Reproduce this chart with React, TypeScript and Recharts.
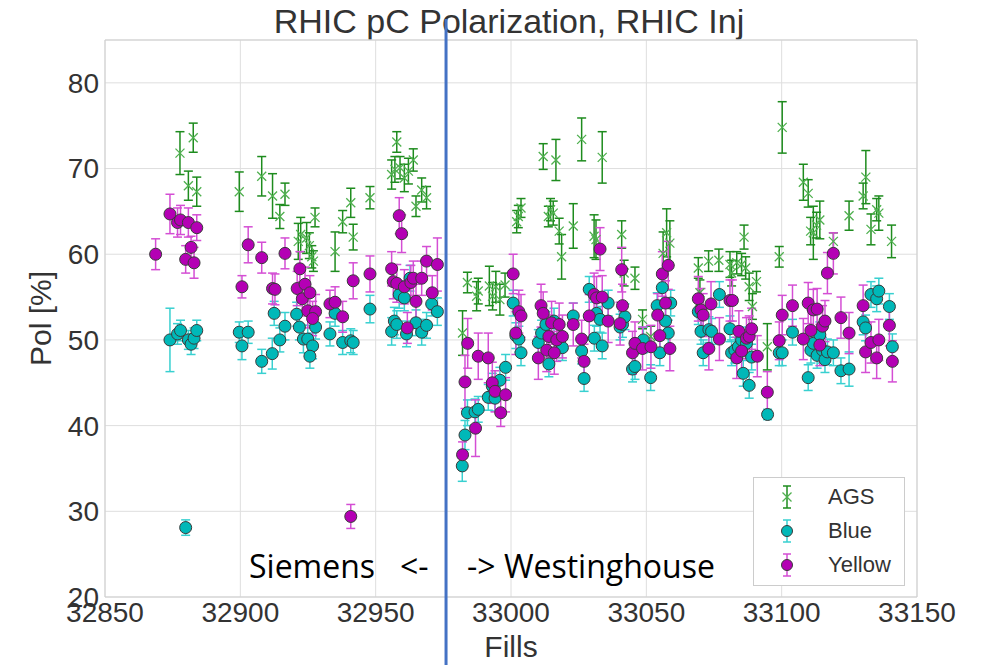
import React from 'react';
import {
  ScatterChart,
  Scatter,
  XAxis,
  YAxis,
  CartesianGrid,
  ErrorBar,
  ReferenceLine,
  ReferenceArea,
  Legend,
} from 'recharts';

type Pt = [number, number, number];

// [fill, polarization %, error]
const agsPoints: Pt[] = [
  [32877.7, 71.8, 2.5], [32882.6, 73.6, 1.7], [32880.8, 68.0, 1.7], [32883.9, 67.3, 1.7],
  [32899.6, 67.3, 2.3], [32907.9, 69.1, 2.3], [32911.9, 66.8, 2.6], [32916.5, 67.0, 1.3],
  [32914.6, 64.4, 1.4], [32921.4, 61.5, 2.1], [32922.3, 62.3, 2.0], [32924.5, 61.9, 1.8],
  [32925.5, 61.0, 1.5], [32926.4, 59.7, 1.3], [32927.0, 59.2, 1.2], [32927.6, 64.3, 1.1],
  [32935.0, 60.3, 2.3], [32937.8, 63.8, 1.3], [32940.8, 66.0, 1.7], [32941.7, 62.0, 1.5],
  [32947.9, 66.6, 1.3], [32957.8, 73.1, 1.2], [32955.9, 69.3, 1.7], [32957.1, 69.9, 1.5],
  [32959.0, 70.1, 1.3], [32960.6, 68.9, 1.6], [32962.1, 69.7, 1.5], [32963.9, 71.0, 1.3],
  [32964.9, 65.6, 1.2], [32967.0, 67.5, 1.4], [32968.8, 66.6, 1.3],
  [32982.1, 50.8, 2.6], [32983.9, 56.7, 1.2], [32987.3, 55.1, 1.7], [32987.9, 55.7, 1.5],
  [32992.0, 56.3, 2.3], [32993.2, 55.1, 1.6], [32994.4, 56.2, 1.8], [32995.9, 54.7, 1.8],
  [32997.8, 56.4, 1.4], [33002.1, 63.8, 1.3], [33002.7, 64.4, 1.3], [33003.7, 65.4, 1.1],
  [33011.9, 71.4, 1.5], [33016.6, 71.0, 2.4], [33013.8, 64.4, 1.2], [33014.6, 65.2, 1.3],
  [33015.6, 64.8, 1.4], [33017.8, 62.7, 1.5], [33018.7, 59.7, 2.6], [33023.0, 63.3, 2.6],
  [33026.1, 73.4, 2.5], [33033.7, 71.3, 3.0], [33030.7, 62.1, 2.5], [33031.4, 61.7, 2.3],
  [33040.9, 62.3, 1.6], [33041.8, 57.8, 1.5], [33045.8, 57.2, 1.3], [33048.6, 52.4, 1.1],
  [33051.6, 50.4, 1.2], [33056.2, 60.1, 2.5], [33057.5, 62.5, 2.8], [33058.7, 61.3, 2.6],
  [33069.2, 58.4, 1.2], [33069.8, 55.5, 1.5], [33073.0, 59.2, 1.2], [33076.8, 59.3, 1.3],
  [33080.9, 58.8, 1.5], [33081.5, 57.8, 1.5], [33083.4, 59.0, 1.3], [33085.2, 58.8, 1.3],
  [33086.7, 58.4, 1.3], [33086.1, 62.0, 1.4], [33088.0, 56.2, 1.6], [33090.7, 56.8, 1.2],
  [33089.2, 53.9, 1.5], [33094.7, 49.2, 2.7], [33099.1, 59.7, 1.2], [33100.2, 74.8, 3.0],
  [33108.0, 68.4, 2.1], [33109.8, 67.1, 1.6], [33110.7, 62.7, 1.6], [33111.7, 62.5, 3.1],
  [33112.9, 63.4, 1.5], [33114.1, 64.0, 2.2], [33119.1, 61.5, 1.0], [33124.9, 64.5, 1.7],
  [33130.1, 66.8, 1.5], [33131.1, 69.0, 3.1], [33133.0, 62.9, 1.8], [33135.1, 65.2, 1.3],
  [33135.9, 64.8, 2.0], [33140.6, 61.5, 1.9],
];

const bluePoints: Pt[] = [
  [32874.0, 50.0, 3.7], [32876.8, 50.7, 1.2], [32877.9, 51.1, 1.2], [32880.8, 50.0, 1.1],
  [32881.8, 49.5, 1.2], [32882.9, 50.2, 1.2], [32883.9, 51.1, 1.2], [32879.8, 28.1, 0.9],
  [32899.6, 50.9, 1.2], [32900.6, 49.3, 1.6], [32902.9, 50.9, 1.3], [32907.9, 47.5, 1.4],
  [32911.8, 48.4, 1.8], [32912.5, 53.1, 1.4], [32914.6, 50.0, 1.4], [32916.5, 51.6, 1.6],
  [32920.8, 53.0, 1.4], [32921.8, 51.5, 1.5], [32923.3, 50.1, 1.6], [32924.9, 50.1, 1.6],
  [32926.7, 49.3, 1.5], [32925.7, 48.1, 1.4], [32927.8, 51.5, 1.4], [32933.1, 50.7, 1.4],
  [32935.0, 53.1, 1.5], [32937.8, 49.7, 1.4], [32940.8, 49.9, 1.4], [32941.7, 49.7, 1.4],
  [32947.9, 53.6, 1.6], [32955.9, 51.0, 1.6], [32956.9, 52.2, 1.6], [32957.8, 51.8, 1.6],
  [32958.7, 55.3, 1.6], [32960.6, 54.9, 1.5], [32961.4, 50.7, 1.5], [32962.7, 57.2, 1.5],
  [32964.9, 52.0, 1.5], [32967.0, 50.9, 1.5], [32968.8, 51.7, 1.5], [32970.7, 54.2, 1.4],
  [32972.8, 53.3, 1.6],
  [32982.0, 35.3, 1.8], [32983.0, 38.9, 1.7], [32983.9, 41.5, 1.5], [32986.7, 41.6, 1.5],
  [32987.9, 41.9, 1.5], [32991.6, 43.3, 1.5], [32993.1, 44.6, 1.5], [32994.1, 43.2, 1.5],
  [32995.9, 45.3, 1.5], [32998.0, 46.8, 1.5], [33000.8, 54.3, 1.5], [33001.8, 50.5, 1.5],
  [33002.9, 50.1, 1.5], [33003.7, 48.5, 1.5], [33010.1, 49.7, 1.5], [33011.3, 50.8, 1.5],
  [33012.9, 51.8, 1.5], [33014.0, 47.2, 1.5], [33015.9, 52.2, 1.5], [33019.0, 49.1, 1.5],
  [33023.0, 52.8, 1.5], [33026.1, 48.7, 1.5], [33027.0, 45.5, 1.5], [33028.9, 55.9, 1.5],
  [33030.8, 50.2, 1.5], [33031.6, 53.1, 1.5], [33032.9, 52.4, 1.5], [33033.7, 49.3, 1.5],
  [33035.9, 54.3, 1.5], [33040.3, 51.5, 1.5], [33041.2, 51.8, 1.5], [33042.1, 52.7, 1.5],
  [33044.9, 46.6, 1.5], [33045.8, 46.9, 1.5], [33048.9, 50.0, 1.5], [33051.6, 45.6, 1.5],
  [33054.0, 54.0, 1.5], [33055.0, 48.5, 1.5], [33055.9, 56.1, 1.5], [33057.1, 52.2, 1.5],
  [33058.1, 50.8, 1.5], [33059.0, 54.3, 1.5],
  [33069.2, 53.3, 1.5], [33070.2, 51.0, 1.5], [33071.0, 48.5, 1.5], [33073.1, 51.2, 1.5],
  [33074.1, 51.0, 1.5], [33077.0, 55.3, 1.5], [33080.9, 51.3, 1.5], [33081.5, 48.5, 1.5],
  [33082.7, 48.8, 1.5], [33084.0, 49.2, 1.5], [33085.2, 50.0, 1.5], [33085.8, 46.1, 1.5],
  [33087.0, 49.6, 1.5], [33088.0, 44.7, 1.5], [33088.9, 48.0, 1.5], [33094.8, 41.3, 0.6],
  [33099.1, 48.5, 1.5], [33100.2, 48.5, 1.5], [33104.0, 50.9, 1.5], [33109.8, 45.6, 1.5],
  [33110.8, 48.8, 1.5], [33111.7, 49.6, 1.5], [33113.1, 48.2, 1.5], [33114.1, 50.6, 1.5],
  [33115.1, 48.8, 1.5], [33116.0, 47.7, 1.5], [33116.9, 48.6, 1.5], [33119.1, 48.5, 1.5],
  [33121.9, 46.4, 1.5], [33124.9, 46.6, 2.0], [33130.1, 52.1, 1.5], [33131.0, 51.4, 1.5],
  [33133.0, 55.3, 1.5], [33135.1, 54.8, 1.5], [33135.9, 55.7, 1.5], [33139.8, 53.9, 1.5],
  [33140.9, 49.2, 1.5],
];

const yellowPoints: Pt[] = [
  [32868.7, 60.0, 1.8], [32874.0, 64.7, 2.3], [32876.8, 63.7, 1.7], [32877.9, 64.0, 1.7],
  [32880.8, 63.7, 1.7], [32881.8, 60.8, 1.3], [32879.8, 59.4, 1.6], [32882.9, 59.0, 1.8],
  [32883.9, 63.1, 1.5], [32900.6, 56.2, 1.3], [32902.9, 61.1, 2.1], [32907.9, 59.6, 1.8],
  [32911.9, 56.0, 1.8], [32912.8, 55.9, 1.8], [32916.5, 60.1, 1.8], [32921.0, 56.0, 2.0],
  [32922.0, 58.3, 2.0], [32922.9, 54.8, 2.0], [32923.9, 56.5, 2.0], [32925.7, 55.5, 2.0],
  [32924.9, 53.4, 2.0], [32927.8, 53.3, 2.0], [32926.7, 52.5, 2.0], [32933.1, 54.2, 1.6],
  [32935.0, 54.4, 1.8], [32937.8, 52.7, 1.8], [32940.8, 29.4, 1.4], [32941.7, 56.9, 2.1],
  [32947.9, 57.7, 2.1], [32955.9, 58.3, 2.0], [32956.5, 56.8, 2.0], [32957.8, 56.6, 2.2],
  [32958.7, 64.5, 2.1], [32959.6, 62.4, 2.2], [32960.6, 56.2, 2.0], [32961.7, 51.4, 1.8],
  [32963.0, 56.7, 2.0], [32963.9, 57.2, 2.0], [32964.9, 54.5, 2.0], [32967.0, 57.2, 2.0],
  [32968.8, 59.2, 1.7], [32970.9, 55.5, 2.0], [32972.8, 58.8, 3.1],
  [32982.1, 36.6, 1.5], [32983.0, 45.1, 3.1], [32984.0, 49.6, 2.9], [32986.9, 39.7, 3.3],
  [32987.9, 48.1, 2.7], [32991.6, 47.9, 2.9], [32993.1, 45.0, 2.4], [32994.1, 44.0, 2.4],
  [32996.2, 41.5, 1.6], [32998.0, 43.6, 2.0], [33000.8, 57.7, 2.3], [33001.8, 50.8, 2.5],
  [33002.9, 53.3, 2.5], [33003.7, 52.8, 2.5], [33010.1, 47.9, 2.5], [33011.1, 54.0, 2.5],
  [33011.9, 53.1, 2.5], [33013.2, 48.8, 2.5], [33014.0, 50.4, 2.5], [33015.0, 52.0, 2.5],
  [33016.0, 48.5, 2.5], [33016.9, 50.0, 2.5], [33017.8, 51.8, 2.5], [33019.0, 50.4, 2.5],
  [33023.0, 51.8, 2.5], [33026.1, 50.1, 2.2], [33027.0, 47.5, 2.0], [33028.9, 52.8, 2.5],
  [33030.7, 55.3, 2.5], [33031.6, 54.9, 2.5], [33032.9, 60.6, 2.5], [33033.7, 55.0, 2.5],
  [33035.9, 52.2, 2.5], [33040.3, 51.9, 2.5], [33040.9, 58.2, 2.6], [33041.2, 54.0, 2.5],
  [33044.9, 48.5, 2.5], [33045.8, 49.6, 2.5], [33048.6, 49.0, 2.5], [33051.7, 49.2, 2.5],
  [33054.2, 52.9, 2.5], [33055.0, 50.5, 2.5], [33055.9, 57.7, 2.6], [33057.1, 54.3, 2.6],
  [33058.1, 58.7, 2.8], [33058.7, 49.0, 2.6],
  [33069.2, 54.8, 2.6], [33070.2, 53.5, 2.5], [33071.0, 52.9, 2.5], [33073.1, 49.0, 2.5],
  [33073.9, 54.2, 2.6], [33077.0, 50.1, 2.5], [33080.9, 54.6, 2.4], [33081.8, 54.6, 2.4],
  [33083.4, 47.9, 2.4], [33084.2, 51.0, 2.4], [33085.2, 48.7, 2.4], [33087.0, 50.2, 2.4],
  [33088.0, 50.4, 2.4], [33088.9, 51.3, 2.4], [33091.0, 48.1, 2.4], [33094.7, 43.9, 2.4],
  [33099.1, 49.9, 2.2], [33100.2, 52.9, 2.3], [33104.0, 54.0, 2.4], [33108.0, 50.1, 2.4],
  [33109.8, 54.3, 2.4], [33110.8, 51.1, 2.4], [33111.7, 53.5, 2.4], [33113.1, 53.6, 2.4],
  [33114.1, 49.4, 2.4], [33115.1, 51.6, 2.4], [33116.0, 52.2, 2.4], [33116.9, 57.8, 2.4],
  [33119.1, 60.1, 2.4], [33121.9, 52.6, 2.4], [33124.9, 50.8, 2.4], [33130.1, 54.0, 2.4],
  [33131.0, 48.6, 2.4], [33133.0, 49.7, 2.4], [33135.1, 47.9, 2.4], [33135.9, 50.0, 2.4],
  [33139.8, 51.7, 2.4], [33140.9, 47.5, 2.4],
];

const xTicks = [32850, 32900, 32950, 33000, 33050, 33100, 33150];
const yTicks = [20, 30, 40, 50, 60, 70, 80];
const xDomain: [number, number] = [32850, 33150];
const yDomain: [number, number] = [20, 85];
const changeoverFill = 32976;

const seriesNames = ['AGS', 'Blue', 'Yellow'];

const toRows = (pts: Pt[]) => pts.map(([x, y, err]) => ({ x, y, err }));

const FONT = '"Liberation Sans", Arial, sans-serif';
const TEXT = '#333333';

const GREEN_MARK = '#4fb04f';
const GREEN_BAR = '#1e8c1e';
const CYAN_FILL = '#00b8b8';
const CYAN_BAR = '#38d0d0';
const MAG_FILL = '#b400b4';
const MAG_BAR = '#d44ed4';

const makeCircle = (fill: string) => (props: any) => {
  const { cx, cy } = props;
  if (cx == null || cy == null) return <g />;
  return <circle cx={cx} cy={cy} r={6} fill={fill} stroke="#3a3a3a" strokeWidth={1} />;
};

const XMark = (props: any) => {
  const { cx, cy } = props;
  if (cx == null || cy == null) return <g />;
  const s = 4.5;
  return (
    <path
      d={`M${cx - s},${cy - s}L${cx + s},${cy + s}M${cx - s},${cy + s}L${cx + s},${cy - s}`}
      stroke={GREEN_MARK}
      strokeWidth={1.3}
      fill="none"
    />
  );
};

const LegendBox = () => {
  const rows = [
    { name: seriesNames[0], bar: GREEN_BAR, kind: 'x' },
    { name: seriesNames[1], bar: CYAN_BAR, kind: 'c', fill: CYAN_FILL },
    { name: seriesNames[2], bar: MAG_BAR, kind: 'c', fill: MAG_FILL },
  ];
  return (
    <div
      style={{
        position: 'relative',
        width: 152,
        height: 109,
        border: '1px solid #cccccc',
        background: '#ffffff',
        boxSizing: 'border-box',
        fontFamily: FONT,
      }}
    >
      {rows.map((r, i) => (
        <div key={r.name} style={{ position: 'absolute', left: 0, top: 4 + i * 34, height: 30, width: 150 }}>
          <svg width={60} height={30} style={{ position: 'absolute', left: 0, top: 0 }}>
            <line x1={33} x2={33} y1={4} y2={26} stroke={r.bar} strokeWidth={1.5} />
            <line x1={29} x2={37} y1={4} y2={4} stroke={r.bar} strokeWidth={1.5} />
            <line x1={29} x2={37} y1={26} y2={26} stroke={r.bar} strokeWidth={1.5} />
            {r.kind === 'x' ? (
              <path d="M28.5,10.5L37.5,19.5M28.5,19.5L37.5,10.5" stroke={GREEN_MARK} strokeWidth={1.3} />
            ) : (
              <circle cx={33} cy={15} r={5.5} fill={r.fill} stroke="#3a3a3a" strokeWidth={1} />
            )}
          </svg>
          <div style={{ position: 'absolute', left: 74, top: 1, fontSize: 22, lineHeight: '28px', color: TEXT }}>
            {r.name}
          </div>
        </div>
      ))}
    </div>
  );
};

const App = () => {
  return (
    <div style={{ position: 'absolute', left: 0, top: 0, width: 987, height: 665, background: '#fff' }}>
      <svg width={987} height={665} style={{ position: 'absolute', left: 0, top: 0 }}>
        <text x={509} y={33} textAnchor="middle" fontFamily={FONT} fontSize={34} fill={TEXT}>
          RHIC pC Polarization, RHIC Inj
        </text>
      </svg>
      <div style={{ position: 'absolute', left: 0, top: 0 }}>
        <ScatterChart width={987} height={665} margin={{ top: 40, right: 70, bottom: 0, left: 0 }}>
          <CartesianGrid stroke="#dedede" strokeWidth={1} />
          <ReferenceArea
            x1={xDomain[0]}
            x2={xDomain[1]}
            y1={yDomain[0]}
            y2={yDomain[1]}
            fill="none"
            stroke="#cfcfcf"
            strokeWidth={1}
          />
          <XAxis
            type="number"
            dataKey="x"
            domain={xDomain}
            ticks={xTicks}
            height={68}
            axisLine={false}
            tickLine={false}
            tickSize={0}
            tickMargin={5}
            tick={{ fill: TEXT, fontSize: 28, fontFamily: FONT }}
            interval={0}
            label={(p: any) => {
              const vb = p.viewBox;
              return (
                <text x={vb.x + vb.width / 2} y={vb.y + 60} textAnchor="middle" fontFamily={FONT} fontSize={30} fill={TEXT}>
                  Fills
                </text>
              );
            }}
          />
          <YAxis
            type="number"
            dataKey="y"
            domain={yDomain}
            ticks={yTicks}
            width={105}
            axisLine={false}
            tickLine={false}
            tickSize={0}
            tickMargin={6}
            tick={{ fill: TEXT, fontSize: 28, fontFamily: FONT }}
            interval={0}
            label={(p: any) => {
              const vb = p.viewBox;
              const cx = vb.x + 40;
              const cy = vb.y + vb.height / 2;
              return (
                <text
                  x={cx}
                  y={cy}
                  transform={`rotate(-90 ${cx} ${cy})`}
                  textAnchor="middle"
                  dominantBaseline="central"
                  fontFamily={FONT}
                  fontSize={30}
                  fill={TEXT}
                >
                  Pol [%]
                </text>
              );
            }}
          />
          <Scatter name={seriesNames[0]} data={toRows(agsPoints)} shape={XMark} isAnimationActive={false}>
            <ErrorBar dataKey="err" direction="y" width={4.5} stroke={GREEN_BAR} strokeWidth={1.5} isAnimationActive={false} />
          </Scatter>
          <Scatter name={seriesNames[1]} data={toRows(bluePoints)} shape={makeCircle(CYAN_FILL)} isAnimationActive={false}>
            <ErrorBar dataKey="err" direction="y" width={4.5} stroke={CYAN_BAR} strokeWidth={1.5} isAnimationActive={false} />
          </Scatter>
          <Scatter name={seriesNames[2]} data={toRows(yellowPoints)} shape={makeCircle(MAG_FILL)} isAnimationActive={false}>
            <ErrorBar dataKey="err" direction="y" width={4.5} stroke={MAG_BAR} strokeWidth={1.5} isAnimationActive={false} />
          </Scatter>
          <ReferenceLine
            x={changeoverFill}
            ifOverflow="visible"
            shape={(p: any) => (
              <line
                x1={p.x1}
                x2={p.x2}
                y1={Math.min(p.y1, p.y2) - 21}
                y2={665}
                stroke="#4472C4"
                strokeWidth={3}
              />
            )}
          />
          <Legend
            layout="vertical"
            align="center"
            verticalAlign="middle"
            content={() => <LegendBox />}
            wrapperStyle={{ position: 'absolute', left: 753, top: 477, width: 152, height: 109, bottom: 'auto', right: 'auto' }}
          />
        </ScatterChart>
      </div>
      <svg width={987} height={665} style={{ position: 'absolute', left: 0, top: 0, pointerEvents: 'none' }}>
        <g fontFamily='"Open Sans", "Noto Sans", sans-serif' fontSize={32} fill="#000">
          <text x={249} y={578}>Siemens</text>
          <text x={400} y={578}>&lt;-</text>
          <text x={467} y={578}>-&gt; Westinghouse</text>
        </g>
      </svg>
    </div>
  );
};

export default App;
